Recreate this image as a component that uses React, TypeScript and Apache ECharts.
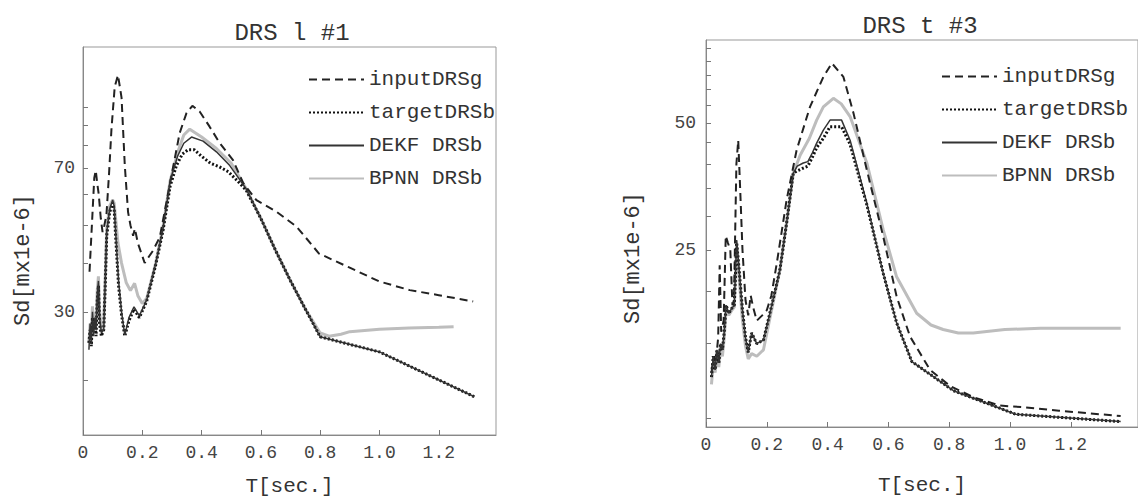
import React, { useEffect, useRef } from "react";
import * as echarts from "echarts";

const FONT = '"Liberation Mono", "DejaVu Sans Mono", monospace';

const seriesNames = ["inputDRSg", "targetDRSb", "DEKF DRSb", "BPNN DRSb"];
const xTickValues = [0, 0.2, 0.4, 0.6, 0.8, 1.0, 1.2];
const leftYLabelValues = [30, 70];
const leftYTickValues = [20, 30, 40, 50, 60, 70, 80, 90, 100];
const rightYLabelValues = [25, 50];
const rightYTickValues = [10, 15, 20, 25, 30, 35, 40, 45, 50, 55, 60, 65, 70, 75];

// ---------- DRS l #1 ----------
const l1InputT = [0.022, 0.03, 0.038, 0.043, 0.048, 0.053, 0.06, 0.066, 0.072, 0.079, 0.088, 0.096, 0.107, 0.118, 0.13, 0.141, 0.152, 0.16, 0.169, 0.175, 0.185, 0.208, 0.222, 0.236, 0.259, 0.281, 0.304, 0.326, 0.349, 0.369, 0.394, 0.427, 0.461, 0.506, 0.54, 0.585, 0.653, 0.72, 0.796, 0.894, 0.999, 1.102, 1.2, 1.316];
const l1InputV = [38, 50, 66, 69, 64, 60, 52, 48, 50, 53, 68, 88, 113, 121, 106, 71, 54, 50, 47, 49, 45, 40, 41.5, 43, 46.6, 57, 70.4, 86, 96.7, 101, 97.5, 89.3, 81.1, 73.3, 64.1, 57.9, 54.1, 49.6, 42.3, 39.1, 35.9, 34.1, 33.1, 31.9];

const l1TargetT = [0.02, 0.024, 0.028, 0.032, 0.036, 0.04, 0.044, 0.048, 0.052, 0.056, 0.062, 0.07, 0.075, 0.08, 0.09, 0.1, 0.105, 0.11, 0.12, 0.13, 0.141, 0.155, 0.172, 0.19, 0.215, 0.245, 0.27, 0.294, 0.315, 0.335, 0.355, 0.375, 0.4, 0.43, 0.46, 0.49, 0.52, 0.55, 0.6, 0.65, 0.7, 0.75, 0.8, 1.0, 1.32];
const l1TargetV = [25, 27, 24.5, 29, 27, 28, 26, 32, 35, 28, 26, 27, 35, 47, 54, 57, 55, 47, 35, 29.5, 26, 28.5, 30.5, 29, 32, 39.5, 48.5, 63, 71, 76, 78, 78, 75, 72, 70.5, 68.5, 65, 61.5, 52, 43, 36, 30.5, 25.9, 23.7, 18.2];

const l1DekfT = [0.02, 0.024, 0.028, 0.032, 0.036, 0.04, 0.044, 0.048, 0.052, 0.056, 0.062, 0.07, 0.075, 0.08, 0.09, 0.1, 0.105, 0.11, 0.12, 0.13, 0.141, 0.155, 0.172, 0.19, 0.215, 0.245, 0.27, 0.294, 0.319, 0.34, 0.366, 0.405, 0.45, 0.495, 0.55, 0.6, 0.65, 0.7, 0.75, 0.8, 1.0, 1.32];
const l1DekfV = [24, 28, 25, 30, 26, 29, 27, 33, 36, 29, 26.5, 27, 36, 48, 55, 58, 56, 48, 36, 30, 26.2, 29, 30.9, 29.3, 32.2, 39.8, 49, 65, 75, 81, 84, 82, 77, 71, 62, 52, 43, 36, 30.5, 25.9, 23.7, 18.2];

const l1BpnnT = [0.02, 0.024, 0.028, 0.032, 0.036, 0.04, 0.044, 0.048, 0.052, 0.056, 0.062, 0.07, 0.075, 0.08, 0.09, 0.1, 0.105, 0.11, 0.118, 0.13, 0.146, 0.16, 0.174, 0.185, 0.2, 0.215, 0.245, 0.27, 0.294, 0.32, 0.34, 0.36, 0.4, 0.45, 0.5, 0.55, 0.6, 0.65, 0.7, 0.75, 0.8, 0.83, 0.87, 0.9, 1.0, 1.1, 1.2, 1.25];
const l1BpnnV = [25, 28, 26, 31, 27, 30, 28, 34, 37, 30, 27, 28, 37, 49, 56, 58, 57, 52, 45, 40, 35.6, 34, 35.5, 33, 31.5, 32.5, 40, 49.5, 65, 77, 85, 88, 84, 78.5, 72, 62, 52, 43, 36, 30.5, 26.5, 26.0, 26.3, 26.7, 27.1, 27.3, 27.4, 27.5];

// ---------- DRS t #3 ----------
const t3InputT = [0.018, 0.025, 0.032, 0.04, 0.045, 0.05, 0.058, 0.065, 0.072, 0.08, 0.087, 0.092, 0.1, 0.106, 0.113, 0.12, 0.13, 0.139, 0.147, 0.155, 0.167, 0.185, 0.2, 0.215, 0.233, 0.265, 0.298, 0.342, 0.386, 0.414, 0.452, 0.485, 0.529, 0.583, 0.627, 0.671, 0.737, 0.803, 0.879, 0.965, 1.043, 1.161, 1.364];
const t3InputV = [12.8, 14, 13.5, 15.5, 23, 16, 17, 27, 26, 25, 18.5, 19, 40, 45.5, 34, 25, 19, 17.5, 19.5, 18.3, 17, 17.5, 18, 19.5, 23.3, 32.8, 43.1, 54.6, 64.3, 69.3, 64.3, 52.8, 38.7, 26.9, 19.4, 15.6, 13, 11.9, 11.2, 10.7, 10.6, 10.4, 10.1];

const t3TargetT = [0.018, 0.024, 0.03, 0.036, 0.042, 0.048, 0.054, 0.06, 0.066, 0.075, 0.085, 0.093, 0.101, 0.11, 0.12, 0.13, 0.139, 0.15, 0.167, 0.189, 0.21, 0.243, 0.265, 0.287, 0.3, 0.32, 0.335, 0.35, 0.364, 0.386, 0.408, 0.446, 0.474, 0.529, 0.583, 0.627, 0.677, 0.814, 1.019, 1.364];
const t3TargetV = [12.5, 14, 13, 14.5, 13.5, 15, 14.5, 16, 18.5, 17.7, 18.2, 18.5, 26, 22, 18, 15.5, 14.3, 15.9, 15, 15.3, 17.7, 22.4, 28.9, 38, 38.5, 39.1, 39.5, 41.5, 43.7, 46, 49, 49, 44.5, 32, 22, 16.8, 13.6, 11.6, 10.2, 9.8];

const t3DekfT = [0.018, 0.024, 0.03, 0.036, 0.042, 0.048, 0.054, 0.06, 0.066, 0.075, 0.085, 0.093, 0.101, 0.11, 0.12, 0.13, 0.139, 0.15, 0.167, 0.189, 0.21, 0.243, 0.265, 0.287, 0.3, 0.32, 0.335, 0.35, 0.364, 0.386, 0.408, 0.446, 0.474, 0.529, 0.583, 0.627, 0.677, 0.814, 1.019, 1.364];
const t3DekfV = [12.5, 14, 13, 14.5, 13.5, 15, 14.5, 16, 18.5, 17.7, 18.2, 18.5, 26.4, 22, 18, 15.5, 14.3, 15.9, 15, 15.3, 17.7, 22.4, 28.9, 38, 39.5, 40.2, 40.5, 42.5, 44.8, 48.1, 50.8, 50.8, 45.5, 32.3, 22, 16.8, 13.6, 11.6, 10.2, 9.8];

const t3BpnnT = [0.018, 0.024, 0.03, 0.036, 0.042, 0.048, 0.054, 0.06, 0.066, 0.075, 0.085, 0.093, 0.101, 0.11, 0.12, 0.13, 0.139, 0.15, 0.167, 0.189, 0.21, 0.243, 0.265, 0.287, 0.31, 0.34, 0.364, 0.386, 0.419, 0.445, 0.474, 0.529, 0.583, 0.627, 0.693, 0.74, 0.78, 0.83, 0.879, 0.983, 1.1, 1.2, 1.364];
const t3BpnnV = [12, 13.5, 12.8, 14, 13.2, 14.5, 14, 15.5, 18, 17.5, 18, 18.3, 25.5, 21, 17, 14.8, 13.8, 14.2, 14, 14.5, 17.2, 22.4, 29, 38, 42, 46, 50.8, 54.6, 57.2, 55.5, 51.8, 40.2, 27.9, 21.6, 17.7, 16.6, 16.2, 15.9, 15.9, 16.2, 16.3, 16.3, 16.3];

const lg = Math.log10;
const pairs = (t: number[], v: number[]) => t.map((x, i) => [x, lg(v[i])]);

const styles = [
  { color: "#222", width: 2, type: [8, 5] as any },
  { color: "#111", width: 3, type: [2, 2] as any },
  { color: "#333", width: 1.5, type: "solid" as any },
  { color: "#bdbdbd", width: 3, type: "solid" as any },
];

function makeSeries(idx: number, sets: [number[], number[]][]) {
  return sets.map(([t, v], i) => ({
    name: seriesNames[i],
    type: "line",
    xAxisIndex: idx,
    yAxisIndex: idx,
    data: pairs(t, v),
    showSymbol: false,
    symbol: "none",
    z: i === 3 ? 1 : 3 + i,
    lineStyle: { color: styles[i].color, width: styles[i].width, type: styles[i].type },
    itemStyle: { color: styles[i].color },
  }));
}

const xAxisCommon = (gridIndex: number, max: number, gap: number) => ({
  type: "value",
  gridIndex,
  min: 0,
  max,
  name: "T[sec.]",
  nameLocation: "middle",
  nameGap: gap,
  nameTextStyle: { fontFamily: FONT, fontSize: 21, color: "#333" },
  splitLine: { show: false },
  axisLine: { show: true, lineStyle: { color: "#888", width: 1 } },
  axisTick: { show: true, inside: true, length: 5, customValues: xTickValues, lineStyle: { color: "#777" } },
  axisLabel: {
    customValues: xTickValues,
    margin: 9,
    fontFamily: FONT,
    fontSize: 18,
    color: "#444",
    formatter: (v: number) => (v === 0 ? "0" : v.toFixed(1)),
  },
});

const yAxisCommon = (gridIndex: number, min: number, max: number, labels: number[], ticks: number[], margin: number) => ({
  type: "value",
  gridIndex,
  min,
  max,
  splitLine: { show: false },
  axisLine: { show: true, lineStyle: { color: "#888", width: 1 } },
  axisTick: { show: true, inside: true, length: 5, customValues: ticks.map(lg), lineStyle: { color: "#777" } },
  axisLabel: {
    customValues: labels.map(lg),
    margin,
    fontFamily: FONT,
    fontSize: 18,
    color: "#444",
    formatter: (v: number) => String(Math.round(Math.pow(10, v))),
  },
});

export default function App() {
  const ref = useRef<HTMLDivElement>(null);
  useEffect(() => {
    if (!ref.current) return;
    const chart = echarts.init(ref.current, undefined, { renderer: "svg" });
    const legendCommon = {
      orient: "vertical",
      itemWidth: 55,
      itemHeight: 14,
      itemGap: 12,
      data: seriesNames,
      itemStyle: { opacity: 0 },
      textStyle: { fontFamily: FONT, fontSize: 21, color: "#333", lineHeight: 21 },
      selectedMode: false,
    };
    chart.setOption({
      animation: false,
      backgroundColor: "#ffffff",
      title: [
        { text: "DRS l #1", left: 287, top: 16, textAlign: "center", textStyle: { fontFamily: FONT, fontSize: 24, fontWeight: "normal", color: "#333" } },
        { text: "DRS t #3", left: 915, top: 9, textAlign: "center", textStyle: { fontFamily: FONT, fontSize: 24, fontWeight: "normal", color: "#333" } },
      ],
      legend: [
        { ...legendCommon, left: 303, top: 64 },
        { ...legendCommon, left: 936, top: 61 },
      ],
      grid: [
        { left: 83, top: 47, width: 413, height: 388, show: true, borderColor: "#999", borderWidth: 1, backgroundColor: "transparent", outerBoundsMode: "none" },
        { left: 706, top: 40, width: 432, height: 387, show: true, borderColor: "#999", borderWidth: 1, backgroundColor: "transparent", outerBoundsMode: "none" },
      ],
      xAxis: [xAxisCommon(0, 1.393, 41), xAxisCommon(1, 1.421, 48)],
      yAxis: [
        yAxisCommon(0, 1.1622, 2.1546, leftYLabelValues, leftYTickValues, 8),
        yAxisCommon(1, 0.97842, 1.8957, rightYLabelValues, rightYTickValues, 10),
      ],
      graphic: [
        { type: "text", x: 23, y: 260, rotation: Math.PI / 2, style: { text: "Sd[mx1e-6]", fontFamily: FONT, fontSize: 22, fill: "#333", align: "center", verticalAlign: "middle" } },
        { type: "text", x: 633, y: 258, rotation: Math.PI / 2, style: { text: "Sd[mx1e-6]", fontFamily: FONT, fontSize: 22, fill: "#333", align: "center", verticalAlign: "middle" } },
      ],
      series: [
        ...makeSeries(0, [[l1InputT, l1InputV], [l1TargetT, l1TargetV], [l1DekfT, l1DekfV], [l1BpnnT, l1BpnnV]]),
        ...makeSeries(1, [[t3InputT, t3InputV], [t3TargetT, t3TargetV], [t3DekfT, t3DekfV], [t3BpnnT, t3BpnnV]]),
      ],
    });
    return () => chart.dispose();
  }, []);
  return <div ref={ref} style={{ position: "fixed", left: 0, top: 0, width: 1138, height: 500 }} />;
}
